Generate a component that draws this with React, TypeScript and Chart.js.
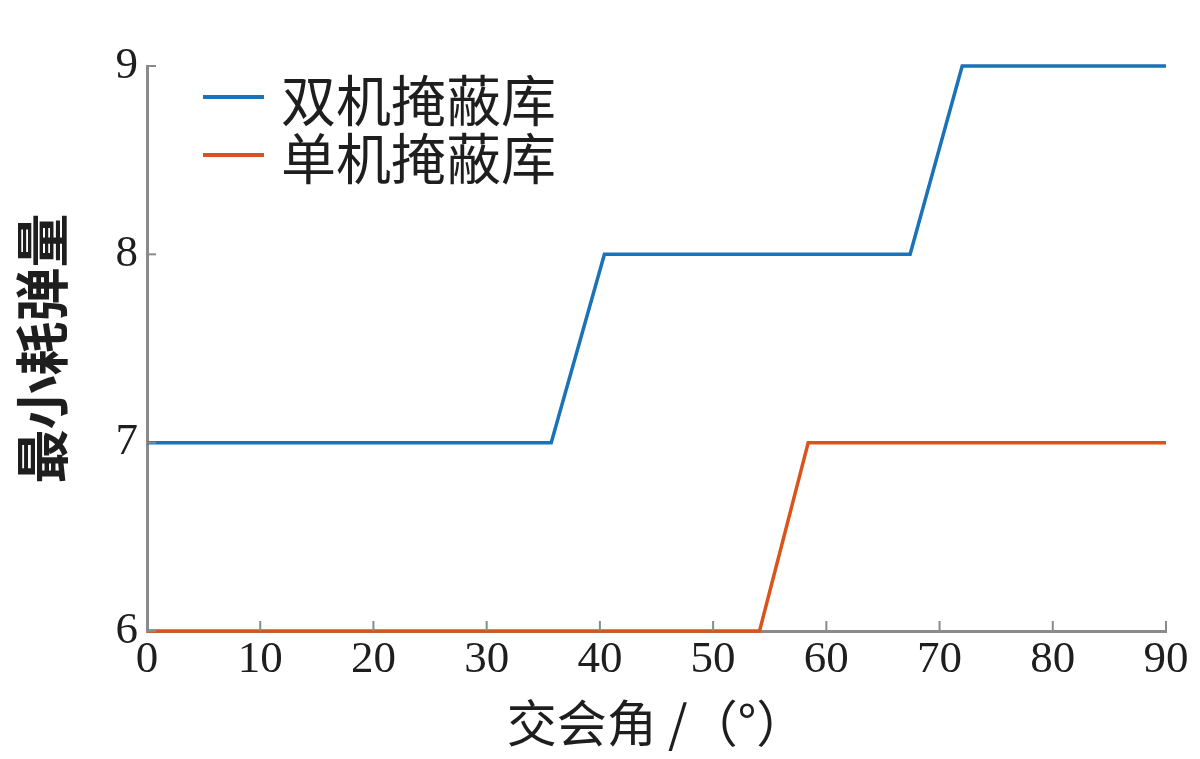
import React, { useEffect, useRef } from 'react';
import { Chart, registerables } from 'chart.js';

Chart.register(...registerables);

// Data (x = 交会角 in degrees, y = 最小耗弹量)
const doubleX = [0, 35.7, 40.4, 67.4, 72, 90];
const doubleY = [7, 7, 8, 8, 9, 9];
const singleX = [0, 54.1, 58.4, 90];
const singleY = [6, 6, 7, 7];
const xTicks = [0, 10, 20, 30, 40, 50, 60, 70, 80, 90];
const yTicks = [6, 7, 8, 9];
const seriesLabels = ['双机掩蔽库', '单机掩蔽库'];
const seriesColors = ['#1a72b8', '#d9541c'];

const AXIS_COLOR = '#8a8a8a';

// Inward tick marks, like the original figure
const inwardTicks = {
  id: 'inwardTicks',
  afterDraw(chart: Chart) {
    const { ctx, chartArea, scales } = chart;
    const x = scales.x;
    const y = scales.y;
    ctx.save();
    ctx.strokeStyle = AXIS_COLOR;
    ctx.lineWidth = 2;
    xTicks.forEach((v) => {
      const px = x.getPixelForValue(v);
      ctx.beginPath();
      ctx.moveTo(px, chartArea.bottom);
      ctx.lineTo(px, chartArea.bottom - 10);
      ctx.stroke();
    });
    yTicks.forEach((v) => {
      const py = y.getPixelForValue(v);
      ctx.beginPath();
      ctx.moveTo(chartArea.left, py);
      ctx.lineTo(chartArea.left + 9, py);
      ctx.stroke();
    });
    ctx.restore();
  },
};

const App: React.FC = () => {
  const canvasRef = useRef<HTMLCanvasElement>(null);

  useEffect(() => {
    if (!canvasRef.current) return;
    const ctx = canvasRef.current.getContext('2d');
    if (!ctx) return;

    const chart = new Chart(ctx, {
      type: 'line',
      data: {
        datasets: [
          {
            label: seriesLabels[0],
            data: doubleX.map((v, i) => ({ x: v, y: doubleY[i] })),
            borderColor: seriesColors[0],
            borderWidth: 3.5,
            pointRadius: 0,
            tension: 0,
            clip: false,
          },
          {
            label: seriesLabels[1],
            data: singleX.map((v, i) => ({ x: v, y: singleY[i] })),
            borderColor: seriesColors[1],
            borderWidth: 3.5,
            pointRadius: 0,
            tension: 0,
            clip: false,
          },
        ],
      },
      options: {
        animation: false,
        responsive: true,
        maintainAspectRatio: false,
        layout: { padding: { top: 66, right: 34, left: 0, bottom: 0 } },
        plugins: {
          legend: { display: false },
          tooltip: { enabled: false },
        },
        scales: {
          x: {
            type: 'linear',
            min: 0,
            max: 90,
            afterFit: (s: any) => { s.height = 128; },
            afterBuildTicks: (s: any) => { s.ticks = xTicks.map((v) => ({ value: v })); },
            grid: { display: true, drawOnChartArea: false, drawTicks: false },
            border: { display: true, color: AXIS_COLOR, width: 3 },
            ticks: {
              color: '#1e1e1e',
              padding: 2,
              maxRotation: 0,
              autoSkip: false,
              font: { family: '"Liberation Serif", serif', size: 45 },
            },
            title: {
              display: true,
              text: '交会角 /（°）',
              color: '#1e1e1e',
              padding: { top: 0, bottom: 6 },
              font: { family: '"Noto Sans CJK SC", sans-serif', size: 50 },
            },
          },
          y: {
            type: 'linear',
            min: 6,
            max: 9,
            afterFit: (s: any) => { s.width = 147; },
            afterBuildTicks: (s: any) => { s.ticks = yTicks.map((v) => ({ value: v })); },
            grid: { display: true, drawOnChartArea: false, drawTicks: false },
            border: { display: true, color: AXIS_COLOR, width: 3 },
            ticks: {
              color: '#1e1e1e',
              padding: 9,
              font: { family: '"Liberation Serif", serif', size: 45 },
            },
            title: {
              display: true,
              text: '最小耗弹量',
              color: '#1e1e1e',
              padding: { top: 10, bottom: 0 },
              font: { family: '"Noto Sans CJK SC", sans-serif', size: 54, weight: 'bold' },
            },
          },
        },
      },
      plugins: [inwardTicks],
    });

    return () => {
      chart.destroy();
    };
  }, []);

  return (
    <div style={{ position: 'fixed', left: 0, top: 0, width: 1200, height: 759, background: '#fff' }}>
      <canvas ref={canvasRef} />
      <div style={{ position: 'absolute', left: 203, top: 68, fontFamily: '"Noto Sans CJK SC", sans-serif', fontSize: 55, color: '#1e1e1e', lineHeight: '58px' }}>
        {seriesLabels.map((label, i) => (
          <div key={label} style={{ display: 'flex', alignItems: 'center' }}>
            <span style={{ display: 'inline-block', width: 61, height: 4, background: seriesColors[i], marginRight: 17 }} />
            <span>{label}</span>
          </div>
        ))}
      </div>
    </div>
  );
};

export default App;
